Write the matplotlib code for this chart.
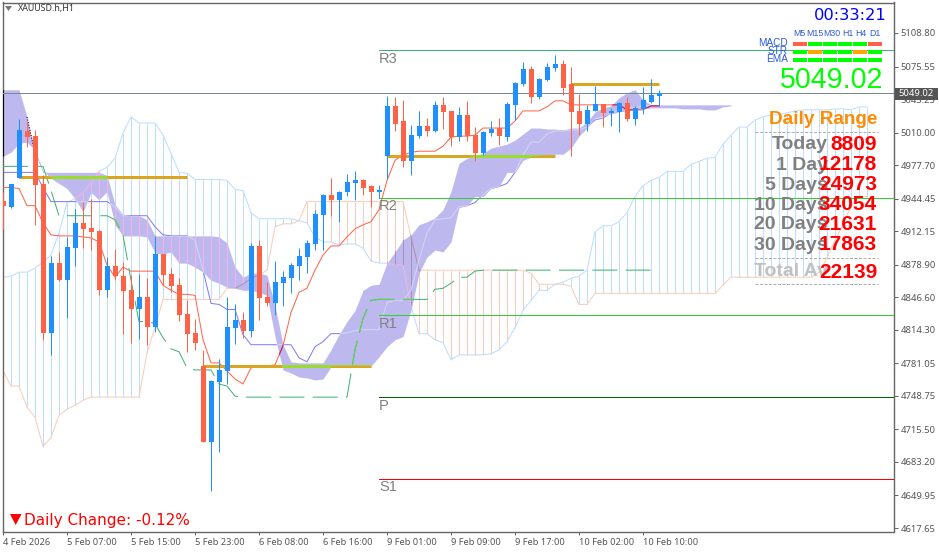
import matplotlib
matplotlib.use('Agg')
from matplotlib import pyplot as plt
from matplotlib.patches import Polygon, Rectangle
from matplotlib.transforms import IdentityTransform
import numpy as np

W, H = 939, 552

opens = [4942.5, 4936.5, 4964.5, 5011.5, 5006.5, 4958.5, 4811.5, 4880.5, 4863.5, 4895.5,
         4920.5, 4915.5, 4912.5, 4853.5, 4877.5, 4867.5, 4853.5, 4834.5, 4846.5, 4817.5,
         4889.5, 4869.5, 4858.5, 4829.5, 4811.5, 4778.5, 4702.5, 4762.5, 4773.5, 4816.5,
         4824.5, 4813.5, 4897.5, 4846.5, 4840.5, 4860.5, 4865.5, 4877.5, 4886.5, 4899.5,
         4928.5, 4948.5, 4943.5, 4951.5, 4959.5, 4962.5, 4956.5, 4951.5, 4986.5, 5036.5,
         5021.5, 4981.5, 5006.5, 5016.5, 5011.5, 5037.5, 5031.5, 5005.5, 5027.5, 5007.5,
         4989.5, 5009.5, 5014.5, 5005.5, 5037.5, 5058.5, 5073.5, 5045.5, 5062.5, 5074.5,
         5078.5, 5058.5, 5031.5, 5018.5, 5031.5, 5038.5, 5029.5, 5030.5, 5039.5, 5023.5,
         5033.5, 5040.5, 5046.5]
highs = [4951.5, 4958.5, 5023.5, 5020.5, 5012.5, 4967.5, 4887.5, 4891.5, 4906.5, 4934.5,
         4941.5, 4944.5, 4913.5, 4886.5, 4894.5, 4881.5, 4868.5, 4869.5, 4865.5, 4907.5,
         4889.5, 4875.5, 4865.5, 4843.5, 4825.5, 4794.5, 4764.5, 4785.5, 4846.5, 4839.5,
         4831.5, 4900.5, 4903.5, 4861.5, 4882.5, 4872.5, 4880.5, 4895.5, 4903.5, 4933.5,
         4949.5, 4964.5, 4952.5, 4968.5, 4971.5, 4963.5, 4957.5, 4957.5, 5046.5, 5045.5,
         5042.5, 5017.5, 5031.5, 5024.5, 5041.5, 5045.5, 5031.5, 5035.5, 5041.5, 5015.5,
         5011.5, 5021.5, 5024.5, 5040.5, 5060.5, 5080.5, 5076.5, 5064.5, 5079.5, 5086.5,
         5082.5, 5075.5, 5048.5, 5037.5, 5056.5, 5038.5, 5034.5, 5040.5, 5045.5, 5036.5,
         5055.5, 5063.5, 5052.5]
lows = [4914.5, 4935.5, 4964.5, 4995.5, 4918.5, 4804.5, 4789.5, 4862.5, 4826.5, 4877.5,
        4895.5, 4893.5, 4848.5, 4846.5, 4863.5, 4810.5, 4801.5, 4805.5, 4799.5, 4812.5,
        4858.5, 4851.5, 4823.5, 4792.5, 4794.5, 4702.5, 4654.5, 4693.5, 4760.5, 4800.5,
        4806.5, 4807.5, 4824.5, 4837.5, 4828.5, 4837.5, 4850.5, 4863.5, 4870.5, 4893.5,
        4893.5, 4927.5, 4921.5, 4947.5, 4943.5, 4948.5, 4936.5, 4945.5, 4963.5, 5011.5,
        4975.5, 4967.5, 5004.5, 5006.5, 5010.5, 5013.5, 4996.5, 5001.5, 5001.5, 4981.5,
        4987.5, 5006.5, 4997.5, 5001.5, 5022.5, 5056.5, 5039.5, 5043.5, 5061.5, 5071.5,
        5047.5, 4986.5, 5007.5, 5011.5, 5031.5, 5015.5, 5016.5, 5010.5, 5021.5, 5017.5,
        5028.5, 5039.5, 5036.5]
closes = [4937.5, 4958.5, 5012.5, 5005.5, 4957.5, 4811.5, 4880.5, 4863.5, 4896.5, 4920.5,
          4914.5, 4911.5, 4853.5, 4877.5, 4867.5, 4852.5, 4834.5, 4846.5, 4817.5, 4889.5,
          4868.5, 4857.5, 4828.5, 4810.5, 4801.5, 4702.5, 4763.5, 4774.5, 4817.5, 4824.5,
          4813.5, 4897.5, 4845.5, 4840.5, 4861.5, 4866.5, 4878.5, 4887.5, 4900.5, 4929.5,
          4948.5, 4943.5, 4951.5, 4960.5, 4962.5, 4955.5, 4951.5, 4953.5, 5036.5, 5018.5,
          4981.5, 5007.5, 5016.5, 5011.5, 5037.5, 5030.5, 5005.5, 5027.5, 5006.5, 4989.5,
          5010.5, 5013.5, 5006.5, 5038.5, 5059.5, 5073.5, 5045.5, 5063.5, 5075.5, 5078.5,
          5054.5, 5030.5, 5018.5, 5032.5, 5038.5, 5029.5, 5031.5, 5039.5, 5023.5, 5034.5,
          5042.5, 5047.5, 5049.5]

kijun = [4955.5, 4955.5, 4954.5, 4937.5, 4937.5, 4920.5, 4908.5, 4907.5, 4907.5, 4907.5,
         4906.5, 4905.5, 4901.5, 4878.5, 4866.5, 4876.5, 4872.5, 4872.5, 4872.5, 4872.5,
         4858.5, 4853.5, 4849.5, 4849.5, 4848.5, 4804.5, 4781.5, 4781.5, 4773.5, 4765.5,
         4760.5, 4776.5, 4778.5, 4778.5, 4779.5, 4798.5, 4831.5, 4851.5, 4855.5, 4873.5,
         4888.5, 4897.5, 4897.5, 4906.5, 4914.5, 4918.5, 4921.5, 4933.5, 4962.5, 4982.5,
         4987.5, 4990.5, 4991.5, 4991.5, 4991.5, 4996.5, 5005.5, 5006.5, 5006.5, 5007.5,
         5014.5, 5014.5, 5014.5, 5014.5, 5021.5, 5031.5, 5031.5, 5031.5, 5035.5, 5041.5,
         5041.5, 5037.5, 5037.5, 5037.5, 5037.5, 5037.5, 5037.5, 5037.5, 5032.5, 5032.5,
         5032.5, 5036.5, 5036.5]
tenkan = [4970.5, 4970.5, 4970.5, 4970.5, 4970.5, 4955.5, 4941.5, 4941.5, 4941.5, 4941.5,
          4941.5, 4941.5, 4941.5, 4941.5, 4936.5, 4927.5, 4927.5, 4927.5, 4927.5, 4916.5,
          4908.5, 4907.5, 4907.5, 4907.5, 4903.5, 4873.5, 4840.5, 4839.5, 4834.5, 4834.5,
          4809.5, 4799.5, 4799.5, 4799.5, 4799.5, 4799.5, 4799.5, 4786.5, 4782.5, 4797.5,
          4802.5, 4810.5, 4810.5, 4811.5, 4813.5, 4814.5, 4814.5, 4814.5, 4841.5, 4843.5,
          4843.5, 4853.5, 4883.5, 4910.5, 4923.5, 4924.5, 4925.5, 4936.5, 4937.5, 4940.5,
          4948.5, 4954.5, 4956.5, 4959.5, 4970.5, 4987.5, 5000.5, 5000.5, 5008.5, 5011.5,
          5011.5, 5012.5, 5012.5, 5015.5, 5022.5, 5024.5, 5029.5, 5032.5, 5034.5, 5034.5,
          5036.5, 5036.5, 5036.5]
chikou = [4976.5, 4976.5, 4976.5, 4976.5, 4976.5, 4976.5, 4952.5, 4927.5, 4927.5, 4927.5,
          4927.5, 4927.5, 4927.5, 4927.5, 4923.5, 4908.5, 4863.5, 4822.5, 4822.5, 4820.5,
          4806.5, 4795.5, 4792.5, 4776.5, 4774.5, 4774.5, 4774.5, 4760.5, 4758.5, 4748.5,
          4747.5, 4747.5, 4747.5, 4747.5, 4747.5, 4747.5, 4747.5, 4747.5, 4747.5, 4747.5,
          4747.5, 4747.5, 4747.5, 4747.5, 4794.5, 4825.5, 4843.5, 4844.5, 4844.5, 4844.5,
          4844.5, 4844.5, 4844.5, 4844.5, 4854.5, 4855.5, 4860.5, 4866.5, 4866.5, 4872.5,
          4873.5, 4873.5, 4873.5, 4873.5, 4873.5, 4873.5, 4873.5, 4873.5, 4873.5, 4873.5,
          4873.5, 4873.5, 4873.5, 4873.5, 4873.5, 4873.5, 4873.5, 4873.5, 4873.5, 4873.5,
          4873.5, 4873.5, 4873.5]

span_a = [4866.5, 4867.5, 4871.5, 4871.5, 4875.5, 4881.5, 4888.5, 4910.5, 4940.5, 4944.5,
          4950.5, 4959.5, 4971.5, 4975.5, 4984.5, 5009.5, 5025.5, 5019.5, 5019.5, 5019.5,
          5007.5, 4989.5, 4970.5, 4969.5, 4963.5, 4963.5, 4963.5, 4963.5, 4962.5, 4953.5,
          4952.5, 4930.5, 4924.5, 4924.5, 4924.5, 4924.5, 4924.5, 4922.5, 4920.5, 4906.5,
          4901.5, 4901.5, 4898.5, 4899.5, 4899.5, 4895.5, 4882.5, 4880.5, 4880.5, 4878.5,
          4878.5, 4837.5, 4810.5, 4810.5, 4804.5, 4801.5, 4784.5, 4789.5, 4789.5, 4789.5,
          4789.5, 4790.5, 4794.5, 4802.5, 4816.5, 4833.5, 4843.5, 4853.5, 4853.5, 4859.5,
          4861.5, 4865.5, 4867.5, 4873.5, 4911.5, 4917.5, 4917.5, 4921.5, 4930.5, 4946.5,
          4957.5, 4962.5, 4965.5, 4971.5, 4971.5, 4971.5, 4978.5, 4981.5, 4984.5, 4985.5,
          4998.5, 5007.5, 5015.5, 5015.5, 5022.5, 5025.5, 5027.5, 5027.5, 5029.5, 5031.5,
          5032.5, 5032.5, 5032.5, 5032.5, 5033.5, 5033.5, 5032.5, 5035.5, 5035.5]
span_b = [4773.5, 4758.5, 4758.5, 4737.5, 4727.5, 4698.5, 4707.5, 4729.5, 4735.5, 4739.5,
          4744.5, 4747.5, 4747.5, 4747.5, 4747.5, 4747.5, 4747.5, 4747.5, 4791.5, 4816.5,
          4844.5, 4844.5, 4844.5, 4844.5, 4844.5, 4844.5, 4844.5, 4844.5, 4855.5, 4855.5,
          4859.5, 4865.5, 4868.5, 4873.5, 4916.5, 4919.5, 4919.5, 4922.5, 4941.5, 4941.5,
          4941.5, 4941.5, 4941.5, 4941.5, 4941.5, 4941.5, 4941.5, 4941.5, 4941.5, 4941.5,
          4941.5, 4906.5, 4873.5, 4873.5, 4873.5, 4873.5, 4873.5, 4873.5, 4873.5, 4873.5,
          4873.5, 4873.5, 4873.5, 4873.5, 4873.5, 4873.5, 4870.5, 4859.5, 4859.5, 4859.5,
          4859.5, 4857.5, 4839.5, 4839.5, 4850.5, 4850.5, 4850.5, 4850.5, 4850.5, 4850.5,
          4850.5, 4850.5, 4850.5, 4850.5, 4850.5, 4850.5, 4850.5, 4850.5, 4850.5, 4850.5,
          4858.5, 4866.5, 4866.5, 4866.5, 4866.5, 4866.5, 4866.5, 4866.5, 4866.5, 4866.5,
          4866.5, 4866.5, 4871.5, 4885.5, 4903.5, 4918.5, 4936.5, 4946.5, 4946.5]

cloud_top = [5052.5, 5052.5, 5052.5, 5025.5, 4989.5, 4970.5, 4970.5, 4970.5, 4970.5, 4970.5,
             4970.5, 4970.5, 4970.5, 4967.5, 4938.5, 4928.5, 4927.5, 4927.5, 4923.5, 4907.5,
             4907.5, 4907.5, 4907.5, 4907.5, 4907.5, 4907.5, 4907.5, 4906.5, 4900.5, 4876.5,
             4866.5, 4870.5, 4870.5, 4868.5, 4838.5, 4799.5, 4782.5, 4781.5, 4781.5, 4781.5,
             4781.5, 4794.5, 4809.5, 4822.5, 4833.5, 4853.5, 4858.5, 4859.5, 4880.5, 4891.5,
             4903.5, 4908.5, 4918.5, 4921.5, 4925.5, 4933.5, 4951.5, 4979.5, 4984.5, 4987.5,
             4989.5, 4994.5, 4996.5, 4998.5, 5002.5, 5008.5, 5014.5, 5014.5, 5013.5, 5013.5,
             5012.5, 5014.5, 5014.5, 5020.5, 5030.5, 5034.5, 5036.5, 5044.5, 5049.5, 5052.5,
             5042.5, 5037.5, 5037.5, 5037.5, 5037.5, 5037.5, 5037.5, 5037.5, 5037.5, 5037.5,
             5037.5, 5037.5]
cloud_bot = [4986.5, 4990.5, 4999.5, 5000.5, 4992.5, 4972.5, 4964.5, 4959.5, 4954.5, 4944.5,
             4931.5, 4950.5, 4943.5, 4951.5, 4918.5, 4907.5, 4907.5, 4907.5, 4906.5, 4890.5,
             4889.5, 4891.5, 4880.5, 4880.5, 4876.5, 4871.5, 4863.5, 4860.5, 4856.5, 4855.5,
             4853.5, 4853.5, 4851.5, 4848.5, 4807.5, 4774.5, 4771.5, 4767.5, 4766.5, 4764.5,
             4765.5, 4777.5, 4778.5, 4778.5, 4778.5, 4778.5, 4778.5, 4787.5, 4797.5, 4804.5,
             4807.5, 4833.5, 4870.5, 4886.5, 4893.5, 4891.5, 4901.5, 4935.5, 4937.5, 4946.5,
             4946.5, 4954.5, 4956.5, 4970.5, 4970.5, 4982.5, 4985.5, 4986.5, 4987.5, 4988.5,
             4988.5, 4994.5, 5006.5, 5014.5, 5024.5, 5026.5, 5028.5, 5030.5, 5031.5, 5032.5,
             5033.5, 5034.5, 5034.5, 5034.5, 5034.5, 5033.5, 5033.5, 5033.5, 5032.5, 5032.5,
             5035.5, 5036.5]

day_first = [2, 25, 48, 71]
day_last = [23, 46, 69, 82]
day_open = [4965.5, 4778.0, 4987.0, 5058.5]

pivot_names = ['R3', 'R2', 'R1', 'P', 'S1']
pivot_vals = [5091.5, 4945.5, 4828.5, 4747.5, 4666.5]
pivot_cols = ['#3CB371', '#32CD32', '#32CD32', '#006400', '#FF0000']
last_price = 5049.02

ytick_vals = [5108.80, 5075.55, 5043.25, 5010.00, 4977.70, 4944.45, 4912.15, 4878.90,
              4846.60, 4814.30, 4781.05, 4748.75, 4715.50, 4683.20, 4649.95, 4617.65]
xtick_labels = ['4 Feb 2026', '5 Feb 07:00', '5 Feb 15:00', '5 Feb 23:00', '6 Feb 08:00',
                '6 Feb 16:00', '9 Feb 01:00', '9 Feb 09:00', '9 Feb 17:00', '10 Feb 02:00',
                '10 Feb 10:00']

frames = ['M5', 'M15', 'M30', 'H1', 'H4', 'D1']
signal_names = ['MACD', 'STR', 'EMA']
signal_cols = [['#FF6347', '#00FF00', '#00FF00', '#00FF00', '#00FF00', '#FF6347'],
               ['#00FF00', '#FFA500', '#00FF00', '#00FF00', '#FFA500', '#00FF00'],
               ['#00FF00', '#00FF00', '#00FF00', '#00FF00', '#00FF00', '#00FF00']]
range_names = ['Today', '1 Day', '5 Days', '10 Days', '20 Days', '30 Days', 'Total Av']
range_vals = [8809, 12178, 24973, 34054, 21631, 17863, 22139]

plt.rcParams['font.family'] = ['Noto Sans', 'DejaVu Sans']

fig = plt.figure(figsize=(W / 100, H / 100), dpi=100, facecolor='white')
ax = fig.add_axes([2.5 / W, 1 - 531.5 / H, 891 / W, 529 / H])
ax.set_xlim(-0.0625, 111.3125)
ax.set_ylim(5108.8 - 498.5 * 0.99222, 5108.8 + 30.5 * 0.99222)

bars = np.arange(len(opens))
fwd = np.arange(len(span_a))
cloud_x = np.arange(len(cloud_top))
a = np.array(span_a)
b = np.array(span_b)
hatch_cols = ['#BBDDFF' if p >= q else '#F6CDB8' for p, q in zip(a, b)]
THIN = 0.72
DASH = (0, (25, 8.3))


def thin(x, y, col, z, **kw):
    return ax.plot(x, y, color=col, lw=THIN, zorder=z, **kw)[0]


def vert(x, y0, y1, cols, z):
    lc = ax.vlines(x, y0, y1, colors=cols, lw=THIN, zorder=z)
    lc.set_snap(True)
    return lc


# ichimoku lines go under the band, the broker's xor look is faked with clipped copies on top
vert(fwd, np.minimum(a, b), np.maximum(a, b), hatch_cols, 1)
thin(fwd, span_a, '#BBDDFF', 1)
thin(fwd, span_b, '#F6CDB8', 1)
thin(bars, tenkan, '#7B7BFF', 1)

band = ax.fill_between(cloud_x, cloud_top, cloud_bot, color='#BDB9EE', lw=0, zorder=2,
                       antialiased=False)
band_path = band.get_paths()[0]


def in_band(artist):
    artist.set_clip_path(band_path, ax.transData)


hatch_in = ['#F2B4E6' if p >= q else '#AD8FB2' for p, q in zip(a, b)]
in_band(vert(fwd, np.minimum(a, b), np.maximum(a, b), hatch_in, 3))
in_band(thin(fwd, span_a, '#F2B4E6', 3))
in_band(thin(fwd, span_b, '#AD8FB2', 3))
in_band(thin(bars, tenkan, '#D6D4F8', 3))

thin(bars, kijun, '#FF6347', 4)
in_band(thin(bars, kijun, '#B0206A', 4.1))
thin(bars, chikou, '#3CB371', 4, linestyle=DASH)
in_band(thin(bars, chikou, '#66D24E', 4.1, linestyle=DASH))

vert(0, cloud_bot[0], cloud_top[0], 'black', 4.2)
ax.plot(cloud_x[3:5], cloud_top[3:5], color='black', lw=THIN, ls=':', zorder=4.2)

for first, last, val in zip(day_first, day_last, day_open):
    ax.plot([first, last], [val, val], color='#DAA520', lw=2.16, solid_capstyle='butt', zorder=5)
    in_band(ax.plot([first, last], [val, val], color='#9ADC28', lw=2.16, solid_capstyle='butt',
                    zorder=5.1)[0])

for name, val, col in zip(pivot_names, pivot_vals, pivot_cols):
    ax.plot([47, 111.3125], [val, val], color=col, lw=THIN, zorder=5.5)
    py = H - ax.transData.transform((0, val))[1] + 8.5
    fig.text(379 / W, 1 - py / H, name, color='#808080', fontsize=10.5, family='Liberation Sans',
             va='center', zorder=9)

ax.axhline(last_price, color='#778899', lw=THIN, zorder=5.5)

# candles
for i in bars:
    col = '#1E90FF' if closes[i] >= opens[i] else '#FF6347'
    vert(i, lows[i], highs[i], col, 6)
    ax.bar(i, abs(closes[i] - opens[i]), bottom=min(opens[i], closes[i]), width=0.625, color=col,
           lw=0, zorder=6.1, antialiased=False)

# axes
for s in ax.spines.values():
    s.set_color('#666666')
    s.set_linewidth(THIN * 1.4)
ax.yaxis.tick_right()
ax.set_yticks(ytick_vals)
ax.set_yticklabels([f'{v:.2f}' for v in ytick_vals])
ax.set_xticks(np.arange(len(xtick_labels)) * 8)
ax.set_xticklabels(xtick_labels, ha='left')
ax.tick_params(axis='y', length=3, width=THIN, color='#666666', labelcolor='#555555',
               labelsize=6.8, pad=2)
ax.tick_params(axis='x', length=2.5, width=THIN, color='#666666', labelcolor='#555555',
               labelsize=6.7, pad=2)

# overlay panels, placed in screen pixels
px = IdentityTransform()


def label(x, y, s, **kw):
    kw.setdefault('family', 'Liberation Sans')
    kw.setdefault('va', 'center')
    kw.setdefault('zorder', 10)
    return fig.text(x / W, 1 - y / H, s, **kw)


def box(x0, y0, x1, y1, col):
    fig.add_artist(Rectangle((x0, H - y1), x1 - x0, y1 - y0, transform=px, fc=col, lw=0, zorder=9))


label(18, 8, 'XAUUSD.h,H1', fontsize=6.4, color='#333333', family='Noto Sans')
fig.add_artist(Polygon([(5, H - 6), (12, H - 6), (8.5, H - 11)], transform=px, fc='#777777', lw=0))

label(887, 15, '00:33:21', fontsize=11.7, color='#0000FF', ha='right', family='DejaVu Sans')
frame_x = [799, 815, 832, 848, 861, 875]
for fx, name in zip(frame_x, frames):
    label(fx, 33, name, fontsize=6.3, color='#2A5BD7', ha='center')
cell_left = [793, 808, 823, 838, 853, 868]
for row, (name, ry) in enumerate(zip(signal_names, [43.7, 52, 60])):
    label(788, ry - 0.7, name, fontsize=7.2, color='#2A5BD7', ha='right')
    for left, col in zip(cell_left, signal_cols[row]):
        box(left, ry - 2, left + 14, ry + 2, col)

label(883, 80, f'{last_price:.2f}', fontsize=20.6, color='#00FF00', ha='right')

box(895, 88, 938, 99.5, '#555555')
label(916, 94, f'{last_price:.2f}', fontsize=6.8, color='white', ha='center', family='Noto Sans')

label(877, 120, 'Daily Range', fontsize=13.7, color='#FF8C00', ha='right', weight='bold')
range_y = [145, 165, 185, 205, 225, 245, 272]
for ry, name in zip(range_y, range_names):
    col = '#C0C0C0' if name.startswith('Total') else '#808080'
    label(828, ry, name, fontsize=14, color=col, ha='right', weight='bold')
for ry, val in zip(range_y, range_vals):
    label(877, ry, str(val), fontsize=15, color='#FF0000', ha='right', weight='bold')
for ry in [132, 258, 283.5]:
    fig.add_artist(plt.Line2D([755, 878], [H - ry, H - ry], transform=px, color='#B0B0B0',
                              lw=THIN, ls=(0, (3, 1.5)), zorder=9))

fig.add_artist(Polygon([(10, H - 514), (21.5, H - 514), (15.7, H - 525)], transform=px,
                       fc='#FF0000', lw=0, zorder=9))
label(24.5, 520, 'Daily Change: -0.12%', fontsize=11, color='#FF0000', family='DejaVu Sans')

fig.savefig('out.png', dpi=100, facecolor='white')
